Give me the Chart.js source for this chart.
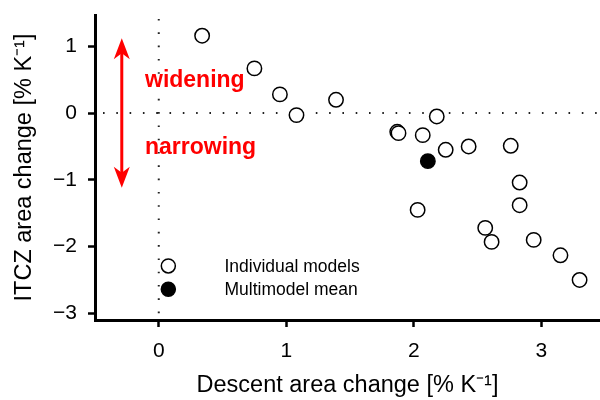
<!DOCTYPE html>
<html>
<head>
<meta charset="utf-8">
<script src="https://cdn.jsdelivr.net/npm/chart.js@4.4.1/dist/chart.umd.min.js"></script>
<style>
  html, body { margin: 0; padding: 0; background: #fff; }
</style>
</head>
<body>
<canvas id="chart" width="600" height="400"></canvas>
<script>
// Values
const descentChange = [0.34, 0.75, 0.95, 1.08, 1.39, 1.87, 1.88, 2.07, 2.18, 2.25, 2.43, 2.76, 2.83, 2.83, 2.03, 2.56, 2.61, 2.94, 3.15, 3.30];
const itczChange = [1.16, 0.67, 0.28, -0.03, 0.20, -0.28, -0.30, -0.33, -0.05, -0.55, -0.50, -0.49, -1.04, -1.38, -1.45, -1.72, -1.93, -1.90, -2.13, -2.50];
const meanDescent = [2.11];
const meanItcz = [-0.72];
const xTicks = [0, 1, 2, 3];
const yTicks = [-3, -2, -1, 0, 1];
const legendLabels = ['Individual models', 'Multimodel mean'];
const arrowLabels = ['widening', 'narrowing'];

const FONT = "'Liberation Sans', Arial, Helvetica, sans-serif";

const toPoints = (xs, ys) => xs.map((v, i) => ({ x: v, y: ys[i] }));
const fmt = v => (v < 0 ? '\u2212' + Math.abs(v) : String(v));

// dotted zero lines, red arrow, labels and the legend box
const decorations = {
    id: 'decorations',
    beforeDatasetsDraw(chart) {
        const { ctx, chartArea: a, scales: { x, y } } = chart;
        const x0 = x.getPixelForValue(0);
        const y0 = y.getPixelForValue(0);
        ctx.save();
        ctx.strokeStyle = '#222';
        ctx.lineWidth = 2;
        ctx.setLineDash([1.6, 11.7]);
        ctx.beginPath();
        ctx.moveTo(x0, a.top + 4);
        ctx.lineTo(x0, a.bottom);
        ctx.moveTo(a.left + 8, y0);
        ctx.lineTo(a.right, y0);
        ctx.stroke();
        ctx.restore();
    },
    afterDatasetsDraw(chart) {
        const { ctx, scales: { x, y } } = chart;
        ctx.save();

        // double headed arrow
        const ax = x.getPixelForValue(-0.29);
        const top = y.getPixelForValue(1.12);
        const bot = y.getPixelForValue(-1.12);
        ctx.strokeStyle = '#ff0000';
        ctx.fillStyle = '#ff0000';
        ctx.lineWidth = 3;
        ctx.beginPath();
        ctx.moveTo(ax, top + 12);
        ctx.lineTo(ax, bot - 12);
        ctx.stroke();
        const head = (tipY, dir) => {
            ctx.beginPath();
            ctx.moveTo(ax, tipY);
            ctx.lineTo(ax - 8, tipY + dir * 21);
            ctx.lineTo(ax, tipY + dir * 15);
            ctx.lineTo(ax + 8, tipY + dir * 21);
            ctx.closePath();
            ctx.fill();
        };
        head(top, 1);
        head(bot, -1);

        ctx.font = 'bold 23px ' + FONT;
        ctx.textAlign = 'left';
        ctx.textBaseline = 'alphabetic';
        ctx.fillText(arrowLabels[0], x.getPixelForValue(-0.108), y.getPixelForValue(0.39));
        ctx.fillText(arrowLabels[1], x.getPixelForValue(-0.108), y.getPixelForValue(-0.615));

        // legend
        const lx = x.getPixelForValue(0.075);
        const tx = x.getPixelForValue(0.515);
        const rows = [y.getPixelForValue(-2.29), y.getPixelForValue(-2.64)];
        ctx.lineWidth = 1.5;
        ctx.strokeStyle = '#000';
        ctx.font = '17.5px ' + FONT;
        ctx.textBaseline = 'middle';
        rows.forEach((ry, i) => {
            ctx.beginPath();
            ctx.arc(lx, ry, 7, 0, Math.PI * 2);
            ctx.fillStyle = i === 0 ? '#fff' : '#000';
            ctx.fill();
            ctx.stroke();
            ctx.fillStyle = '#000';
            ctx.fillText(legendLabels[i], tx, ry + 1);
        });
        ctx.restore();
    }
};

const axisCommon = {
    type: 'linear',
    grid: {
        drawOnChartArea: false,
        drawTicks: true,
        tickLength: 7,
        tickWidth: 2.5,
        tickColor: '#000'
    },
    border: { display: true, color: '#000', width: 3 },
};

new Chart(document.getElementById('chart'), {
    type: 'scatter',
    data: {
        datasets: [
            {
                label: legendLabels[0],
                data: toPoints(descentChange, itczChange),
                pointRadius: 7.2,
                pointBorderWidth: 1.5,
                borderColor: '#000',
                backgroundColor: '#fff'
            },
            {
                label: legendLabels[1],
                data: toPoints(meanDescent, meanItcz),
                pointRadius: 7.2,
                pointBorderWidth: 1.5,
                borderColor: '#000',
                backgroundColor: '#000'
            }
        ]
    },
    options: {
        responsive: false,
        animation: false,
        devicePixelRatio: 1,
        layout: { autoPadding: false, padding: { top: 15, right: 0, left: 0, bottom: 0 } },
        plugins: {
            legend: { display: false },
            tooltip: { enabled: false }
        },
        scales: {
            x: {
                ...axisCommon,
                min: -0.5,
                max: 3.46,
                afterBuildTicks: s => { s.ticks = xTicks.map(v => ({ value: v })); },
                afterFit: s => { s.height = 80; s.paddingLeft = 0; s.paddingRight = 0; },
                ticks: { font: { family: FONT, size: 21 }, color: '#000', padding: 12, callback: fmt },
                title: {
                    display: true,
                    text: 'Descent area change [% K\u207B\u00B9]',
                    font: { family: FONT, size: 23.5 },
                    color: '#000',
                    padding: 0
                }
            },
            y: {
                ...axisCommon,
                min: -3.1,
                max: 1.47,
                afterBuildTicks: s => { s.ticks = yTicks.map(v => ({ value: v })); },
                afterFit: s => { s.width = 95; s.paddingTop = 0; s.paddingBottom = 0; },
                ticks: { font: { family: FONT, size: 21 }, color: '#000', padding: 11, callback: fmt },
                title: {
                    display: true,
                    text: 'ITCZ area change [% K\u207B\u00B9]',
                    font: { family: FONT, size: 23.5 },
                    color: '#000',
                    padding: 10
                }
            }
        }
    },
    plugins: [decorations]
});
</script>
</body>
</html>
